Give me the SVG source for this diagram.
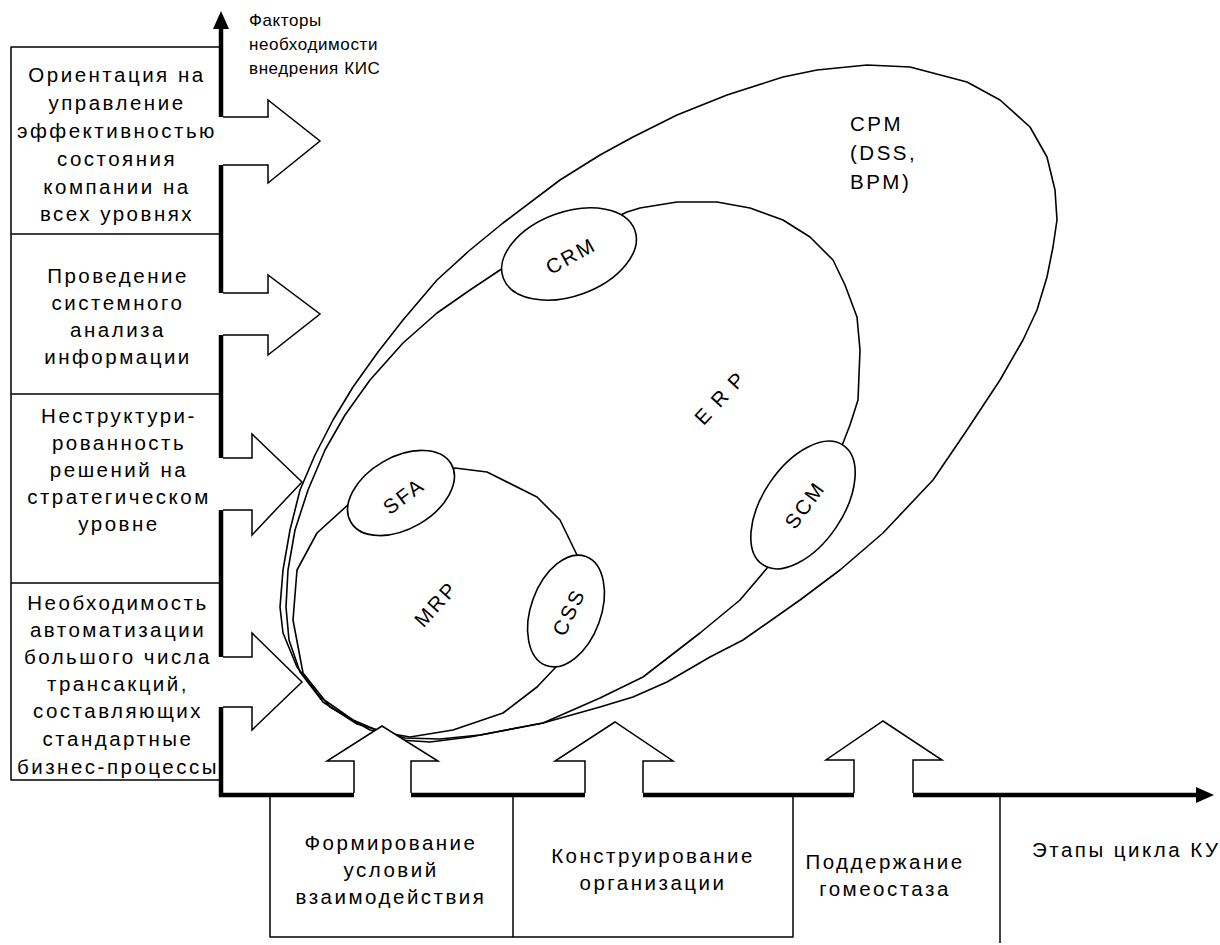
<svg xmlns="http://www.w3.org/2000/svg" width="1220" height="945" viewBox="0 0 1220 945">
<defs>
<style>
text{font-family:"Liberation Sans",Arial,sans-serif;font-size:20.5px;fill:#000;letter-spacing:2.5px}
.c{text-anchor:middle}
.top{font-size:17px;letter-spacing:0.6px}
.thin{fill:none;stroke:#000;stroke-width:1.5;stroke-linejoin:round}
.blob{fill:none;stroke:#000;stroke-width:1.6;stroke-linejoin:round}
.small{fill:#fff;stroke:#000;stroke-width:1.6}
.axis{fill:none;stroke:#000;stroke-width:4.5}
.arr{fill:#fff;stroke:#000;stroke-width:1.5;stroke-linejoin:miter}
</style>
</defs>
<rect width="1220" height="945" fill="#fff"/>

<g id="cpm">
<polygon class="blob" points="400,740 353,720 320,697 297,667 283,633 280,607 283,570 290,530 300,490 315,455 333,420 353,387 378,352 403,320 437,280 470,250 503,223 560,180 600,155 633,137 677,115 727,95 783,77 817,70 867,65 910,67 967,82 1000,100 1030,127 1047,157 1055,190 1057,220 1053,247 1047,277 1037,310 1023,340 1000,380 967,430 933,480 883,533 840,570 800,600 743,640 710,657 667,682 633,697 600,707 543,723 470,737 430,742"/>
<text x="850" y="131">CPM</text>
<text x="850" y="160">(DSS,</text>
<text x="850" y="189">BPM)</text>
</g>

<g id="erp">
<polygon class="blob" points="500,270 470,290 437,313 403,343 370,380 345,415 325,450 308,490 295,530 288,570 286,607 289,640 300,672 323,702 357,724 405,738 440,739 480,735 543,723 600,698 643,677 700,633 740,600 768,567 800,520 843,443 850,425 858,400 860,350 857,317 845,285 833,260 810,237 783,220 750,208 717,202 677,202 640,208 627,212 590,230"/>
<text class="c" transform="translate(723,395) rotate(-47)" style="letter-spacing:10px" dy="7">ERP</text>
</g>

<g id="mrp">
<polygon class="blob" points="455,468 487,472 537,497 560,520 577,555 588,600 580,640 555,668 537,687 503,713 453,730 410,737 370,730 330,707 303,673 293,620 297,570 317,533 350,503 400,490"/>
<text class="c" transform="translate(436,604) rotate(-48)" dy="7">MRP</text>
</g>

<g id="crm">
<ellipse class="small" cx="569" cy="254" rx="70" ry="42" transform="rotate(-20 569 254)"/>
<text class="c" transform="translate(571,256) rotate(-29)" dy="7">CRM</text>
</g>

<g id="scm">
<ellipse class="small" cx="803" cy="505" rx="72" ry="40" transform="rotate(-56 803 505)"/>
<text class="c" transform="translate(805,505) rotate(-54)" dy="7">SCM</text>
</g>

<g id="sfa">
<ellipse class="small" cx="401" cy="493" rx="58" ry="36" transform="rotate(-30 401 493)"/>
<text class="c" transform="translate(404,496) rotate(-37)" dy="7">SFA</text>
</g>

<g id="css">
<ellipse class="small" cx="566" cy="611" rx="58" ry="35" transform="rotate(-70 566 611)"/>
<text class="c" transform="translate(569,612) rotate(-64)" dy="7">CSS</text>
</g>

<g id="connectors">
<polyline class="axis" points="221,26 221,117"/>
<polyline class="axis" points="221,165 221,293"/>
<polyline class="axis" points="221,335 221,458"/>
<polyline class="axis" points="221,510 221,657"/>
<polyline class="axis" points="221,707 221,795 354,795"/>
<polygon points="221,11 213,29 229,29" fill="#000"/>
<polyline class="axis" points="411,795 585,795"/>
<polyline class="axis" points="643,795 854,795"/>
<polyline class="axis" points="913,795 1199,795"/>
<polygon points="1214,795 1196,787 1196,803" fill="#000"/>
<polyline class="arr" points="223,117 268,117 268,100 320,141 268,183 268,165 223,165"/>
<polyline class="arr" points="223,293 268,293 268,275 320,314 268,355 268,335 223,335"/>
<polyline class="arr" points="223,458 252,458 252,434 302,482 252,535 252,510 223,510"/>
<polyline class="arr" points="223,657 252,657 252,633 302,682 252,730 252,707 223,707"/>
<polyline class="arr" points="354,793 354,761 327,761 382,726 438,761 411,761 411,793"/>
<polyline class="arr" points="585,793 585,761 555,761 615,722 673,761 643,761 643,793"/>
<polyline class="arr" points="854,793 854,760 826,760 883,721 942,760 913,760 913,793"/>
</g>

<g id="axis-label-y">
<text class="top" x="249" y="26">Факторы</text>
<text class="top" x="249" y="50">необходимости</text>
<text class="top" x="249" y="74">внедрения КИС</text>
</g>

<g id="factors">
<polyline class="thin" points="219,47 11,47 11,780 219,780"/>
<line class="thin" x1="11" y1="234" x2="219" y2="234"/>
<line class="thin" x1="11" y1="394" x2="219" y2="394"/>
<line class="thin" x1="11" y1="583" x2="219" y2="583"/>
</g>

<g id="factor1">
<text class="c" x="117" y="82">Ориентация на</text>
<text class="c" x="117" y="110">управление</text>
<text class="c" x="117" y="138">эффективностью</text>
<text class="c" x="117" y="166">состояния</text>
<text class="c" x="117" y="194">компании на</text>
<text class="c" x="117" y="221">всех уровнях</text>
</g>
<g id="factor2">
<text class="c" x="118" y="283">Проведение</text>
<text class="c" x="118" y="310">системного</text>
<text class="c" x="118" y="337">анализа</text>
<text class="c" x="118" y="364">информации</text>
</g>
<g id="factor3">
<text class="c" x="119" y="423">Неструктури-</text>
<text class="c" x="119" y="450">рованность</text>
<text class="c" x="119" y="477">решений на</text>
<text class="c" x="119" y="504">стратегическом</text>
<text class="c" x="119" y="531">уровне</text>
</g>
<g id="factor4">
<text class="c" x="118" y="610">Необходимость</text>
<text class="c" x="118" y="637">автоматизации</text>
<text class="c" x="118" y="664">большого числа</text>
<text class="c" x="118" y="691">трансакций,</text>
<text class="c" x="118" y="718">составляющих</text>
<text class="c" x="118" y="746">стандартные</text>
<text class="c" x="118" y="774">бизнес-процессы</text>
</g>

<g id="stages">
<polyline class="thin" points="270,797 270,937 793,937 793,797"/>
<line class="thin" x1="513" y1="797" x2="513" y2="937"/>
<line class="thin" x1="1000" y1="797" x2="1000" y2="943"/>
</g>
<g id="stage1">
<text class="c" x="391" y="850">Формирование</text>
<text class="c" x="391" y="877">условий</text>
<text class="c" x="391" y="904">взаимодействия</text>
</g>
<g id="stage2">
<text class="c" x="653" y="863">Конструирование</text>
<text class="c" x="653" y="890">организации</text>
</g>
<g id="stage3">
<text class="c" x="885" y="869">Поддержание</text>
<text class="c" x="885" y="896">гомеостаза</text>
</g>
<g id="axis-label-x">
<text x="1032" y="857">Этапы цикла КУ</text>
</g>
</svg>
